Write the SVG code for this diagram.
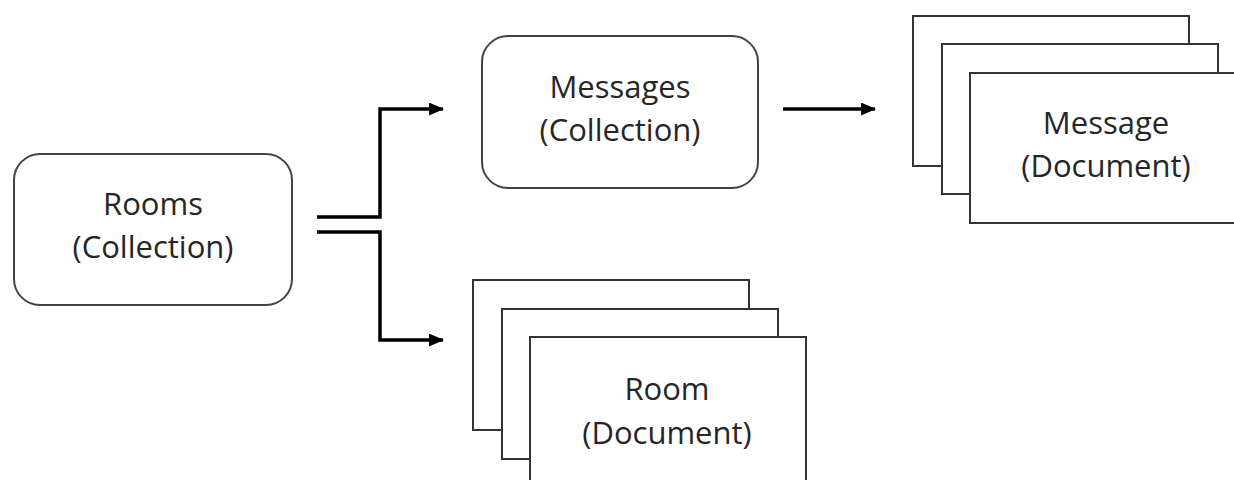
<svg xmlns="http://www.w3.org/2000/svg" width="1234" height="480" viewBox="0 0 1234 480">
<style>
.box{fill:#fff;stroke:#444;stroke-width:2}
.doc{fill:#fff;stroke:#333;stroke-width:2}
.lbl{font-family:"Open Sans","Noto Sans",sans-serif;font-size:31px;fill:#262626;text-anchor:middle}
.conn{fill:none;stroke:#000;stroke-width:3.5}
</style>
<defs>
<marker id="arr" markerWidth="15" markerHeight="13" refX="14" refY="6.5" orient="auto" markerUnits="userSpaceOnUse">
<path d="M0,0 L15,6.5 L0,13 Z" fill="#000"/>
</marker>
</defs>
<rect width="1234" height="480" fill="#fff"/>
<g id="rooms">
<rect class="box" x="14" y="154" width="278" height="151" rx="26"/>
<text class="lbl" x="153" y="215">Rooms</text>
<text class="lbl" x="153" y="258">(Collection)</text>
</g>
<g id="messages">
<rect class="box" x="482" y="36" width="276" height="152" rx="26"/>
<text class="lbl" x="620" y="98">Messages</text>
<text class="lbl" x="620" y="141">(Collection)</text>
</g>
<g id="message-docs">
<rect class="doc" x="913" y="16" width="276" height="150"/>
<rect class="doc" x="942" y="44" width="276" height="150"/>
<rect class="doc" x="970" y="73" width="276" height="150"/>
<text class="lbl" x="1106" y="134">Message</text>
<text class="lbl" x="1106" y="177">(Document)</text>
</g>
<g id="room-docs">
<rect class="doc" x="473" y="280" width="276" height="150"/>
<rect class="doc" x="502" y="309" width="276" height="150"/>
<rect class="doc" x="530" y="337" width="276" height="150"/>
<text class="lbl" x="667" y="400">Room</text>
<text class="lbl" x="667" y="444">(Document)</text>
</g>
<g id="connectors">
<path class="conn" d="M317,217 H380 V109 H443" marker-end="url(#arr)"/>
<path class="conn" d="M317,232 H380 V340 H443" marker-end="url(#arr)"/>
<path class="conn" d="M783,109 H875" marker-end="url(#arr)"/>
</g>
</svg>
